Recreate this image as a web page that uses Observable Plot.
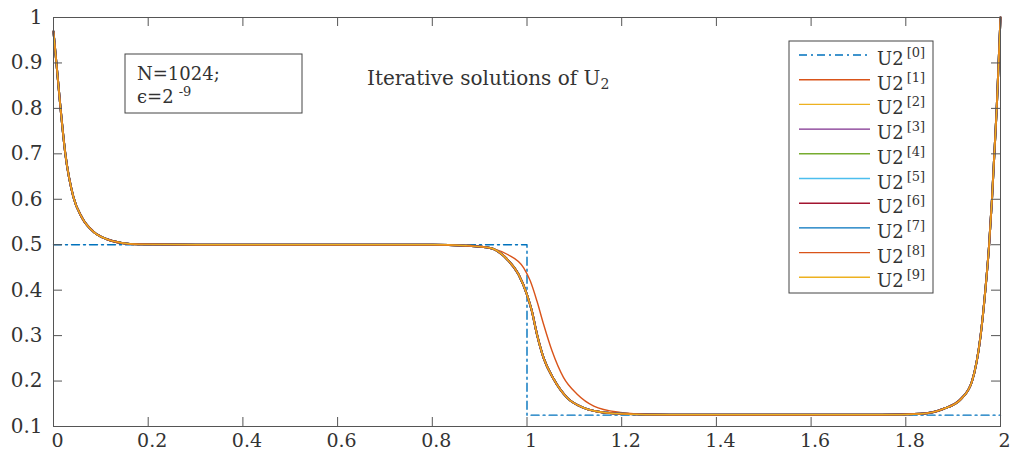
<!DOCTYPE html>
<html>
<head>
<meta charset="utf-8">
<script src="https://cdn.jsdelivr.net/npm/d3@7"></script>
<script src="https://cdn.jsdelivr.net/npm/@observablehq/plot@0.6"></script>
<style>
  html, body { margin: 0; padding: 0; background: #fff; overflow: hidden; }
  #chart svg { display: block; }
</style>
</head>
<body>
<div id="chart"></div>
<script>
// ---- data ----
const xTicks = [0, 0.2, 0.4, 0.6, 0.8, 1, 1.2, 1.4, 1.6, 1.8, 2];
const yTicks = [0.1, 0.2, 0.3, 0.4, 0.5, 0.6, 0.7, 0.8, 0.9, 1];

// U2^[0]: initial guess (step)
const xInit = [0, 1, 1, 2];
const u2Init = [0.5, 0.5, 0.125, 0.125];

// U2^[1]: first iterate
const xIter1 = [0, 0.007, 0.014, 0.025, 0.042, 0.06, 0.085, 0.113, 0.144, 0.18, 0.3, 0.6, 0.8, 0.87, 0.9, 0.958, 0.993, 1.007, 1.021, 1.035, 1.053, 1.077, 1.106, 1.141, 1.197, 1.25, 1.3, 1.6, 1.75, 1.831, 1.88, 1.917, 1.94, 1.958, 1.968, 1.976, 1.982, 1.987, 1.992, 1.996, 2.0];
const u2Iter1 = [0.969, 0.89, 0.81, 0.70, 0.605, 0.56, 0.528, 0.512, 0.504, 0.501, 0.5, 0.5, 0.5, 0.499, 0.497, 0.479, 0.449, 0.42, 0.376, 0.325, 0.266, 0.208, 0.171, 0.145, 0.131, 0.127, 0.126, 0.126, 0.126, 0.128, 0.139, 0.161, 0.2, 0.3, 0.4, 0.5, 0.6, 0.7, 0.8, 0.9, 1.0];

// U2^[2] ... U2^[9]: converged iterates (visually identical)
const xConv = [0, 0.007, 0.014, 0.025, 0.042, 0.06, 0.085, 0.113, 0.144, 0.18, 0.3, 0.6, 0.8, 0.87, 0.922, 0.958, 0.982, 1.0, 1.01, 1.021, 1.035, 1.056, 1.085, 1.12, 1.169, 1.2, 1.3, 1.6, 1.75, 1.831, 1.88, 1.917, 1.94, 1.958, 1.968, 1.976, 1.982, 1.987, 1.992, 1.996, 2.0];
const u2Conv = [0.969, 0.89, 0.81, 0.70, 0.605, 0.56, 0.528, 0.512, 0.504, 0.501, 0.5, 0.5, 0.5, 0.498, 0.493, 0.468, 0.435, 0.39, 0.355, 0.303, 0.251, 0.205, 0.163, 0.141, 0.13, 0.128, 0.126, 0.126, 0.126, 0.128, 0.139, 0.161, 0.2, 0.3, 0.4, 0.5, 0.6, 0.7, 0.8, 0.9, 1.0];

const iterLabels = ["[0]", "[1]", "[2]", "[3]", "[4]", "[5]", "[6]", "[7]", "[8]", "[9]"];
const iterColors = ["#0072BD", "#D95319", "#EDB120", "#7E2F8E", "#77AC30", "#4DBEEE", "#A2142F", "#0072BD", "#D95319", "#EDB120"];

// ---- tables ----
const toRows = (xs, ys) => xs.map((x, i) => ({x, y: ys[i]}));
const initRows = toRows(xInit, u2Init);
const iter1Rows = toRows(xIter1, u2Iter1);
const convRows = toRows(xConv, u2Conv);

const W = 1011, H = 453;
const mL = 53, mR = 11, mT = 17, mB = 27;
const innerW = W - mL - mR, innerH = H - mT - mB;
const tickLen = 9;
const axisColor = "#555";
const textColor = "#333";
const dashDot = "8,4,2,4";

const convMarks = [];
for (let k = 2; k <= 9; k++) {
  convMarks.push(Plot.line(convRows, {
    x: "x", y: "y", curve: "monotone-x",
    stroke: iterColors[k], strokeWidth: k === 9 ? 1.2 : 2
  }));
}

const chart = Plot.plot({
  width: W, height: H,
  marginLeft: mL, marginRight: mR, marginTop: mT, marginBottom: mB,
  style: {fontFamily: "'DejaVu Serif', serif", fontSize: "20px", color: textColor, background: "#fff"},
  x: {domain: [0, 2]},
  y: {domain: [0.1, 1]},
  marks: [
    Plot.line(initRows, {x: "x", y: "y", stroke: iterColors[0], strokeWidth: 1.4, strokeDasharray: dashDot}),
    Plot.line(iter1Rows, {x: "x", y: "y", curve: "monotone-x", stroke: iterColors[1], strokeWidth: 1.4}),
    ...convMarks,
    Plot.frame({stroke: axisColor, strokeWidth: 1}),
    // inward ticks on all four sides
    Plot.tickX(xTicks, {x: d => d, insetTop: innerH - tickLen, stroke: axisColor}),
    Plot.tickX(xTicks, {x: d => d, insetBottom: innerH - tickLen, stroke: axisColor}),
    Plot.tickY(yTicks, {y: d => d, insetRight: innerW - tickLen, stroke: axisColor}),
    Plot.tickY(yTicks, {y: d => d, insetLeft: innerW - tickLen, stroke: axisColor}),
    Plot.axisX(xTicks, {anchor: "bottom", tickSize: 0, tickPadding: 7, dx: 4, fontSize: 19, label: null, fill: textColor, tickFormat: d => `${d}`}),
    Plot.axisY(yTicks, {anchor: "left", tickSize: 0, tickPadding: 11, label: null, fill: textColor, tickFormat: d => `${d}`})
  ]
});
document.getElementById("chart").appendChild(chart);

// ---- annotations and legend (inside the axes) ----
const svg = d3.select(chart);
const font = "'DejaVu Serif', serif";

// parameter box
const pb = svg.append("g").attr("font-family", font).attr("font-size", 18).attr("fill", textColor).attr("text-anchor", "start");
pb.append("rect").attr("x", 125).attr("y", 54).attr("width", 177).attr("height", 59)
  .attr("fill", "#fff").attr("stroke", "#444").attr("stroke-width", 1);
pb.append("text").attr("x", 137).attr("y", 80).text("N=1024;");
const eps = pb.append("text").attr("x", 137).attr("y", 103);
eps.append("tspan").text("ϵ=2");
eps.append("tspan").attr("dx", 5).attr("dy", -7).attr("font-size", 13).text("-9");

// title inside axes
const tt = svg.append("text").attr("x", 367).attr("y", 85).attr("text-anchor", "start")
  .attr("font-family", font).attr("font-size", 20).attr("fill", textColor);
tt.append("tspan").text("Iterative solutions of U");
tt.append("tspan").attr("dy", 4).attr("font-size", 14).text("2");

// legend
const lg = svg.append("g").attr("font-family", font).attr("fill", textColor).attr("text-anchor", "start");
lg.append("rect").attr("x", 789).attr("y", 41).attr("width", 144).attr("height", 252)
  .attr("fill", "#fff").attr("stroke", "#444").attr("stroke-width", 1);
iterLabels.forEach((lab, i) => {
  const y = 55 + i * 24.7;
  lg.append("line").attr("x1", 799).attr("x2", 870).attr("y1", y).attr("y2", y)
    .attr("stroke", iterColors[i]).attr("stroke-width", 1.4)
    .attr("stroke-dasharray", i === 0 ? dashDot : null);
  const t = lg.append("text").attr("x", 877).attr("y", y + 10).attr("font-size", 18);
  t.append("tspan").text("U2");
  t.append("tspan").attr("dx", 3).attr("dy", -8).attr("font-size", 13).text(lab);
});
</script>
</body>
</html>
